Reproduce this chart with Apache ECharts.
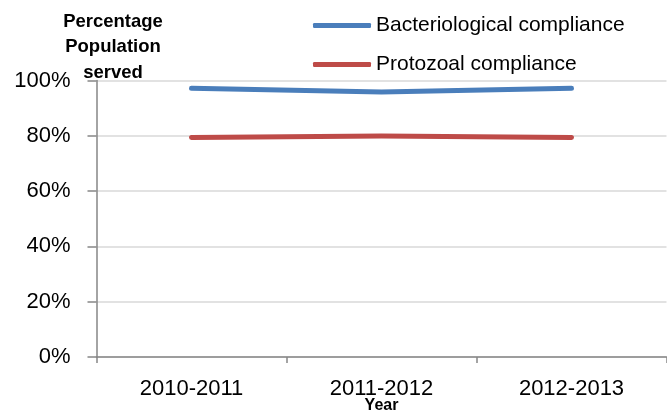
<!DOCTYPE html>
<html>
<head>
<meta charset="utf-8">
<script src="https://cdn.jsdelivr.net/npm/echarts@6/dist/echarts.min.js"></script>
<style>
html,body{margin:0;padding:0;background:#fff;}
#chart{width:667px;height:410px;}
</style>
</head>
<body>
<div id="chart"></div>
<script>
var categories = ['2010-2011', '2011-2012', '2012-2013'];
var bacteriological = [97.2, 95.8, 97.2];
var protozoal = [79.4, 79.9, 79.4];
var seriesNames = ['Bacteriological compliance', 'Protozoal compliance'];
var yTitle = 'Percentage\nPopulation\nserved';
var xTitle = 'Year';

var FONT = 'Liberation Sans';
var chart = echarts.init(document.getElementById('chart'), null, {renderer: 'canvas'});
chart.setOption({
  animation: false,
  backgroundColor: '#ffffff',
  title: {
    text: yTitle,
    left: 113,
    top: 9,
    padding: 0,
    textAlign: 'center',
    textStyle: {fontFamily: FONT, fontSize: 18.5, fontWeight: 'bold', color: '#000', lineHeight: 25.5}
  },
  legend: [
    {
      data: [seriesNames[0]],
      left: 313, top: 15, padding: 0,
      icon: 'roundRect', itemWidth: 58, itemHeight: 5, itemGap: 0,
      textStyle: {fontFamily: FONT, fontSize: 21, color: '#000'}
    },
    {
      data: [seriesNames[1]],
      left: 313, top: 54, padding: 0,
      icon: 'roundRect', itemWidth: 58, itemHeight: 5, itemGap: 0,
      textStyle: {fontFamily: FONT, fontSize: 21, color: '#000'}
    }
  ],
  grid: {left: 96.5, right: 0.5, top: 80.5, bottom: 53, containLabel: false, outerBoundsMode: 'none'},
  xAxis: {
    type: 'category',
    data: categories,
    boundaryGap: true,
    name: xTitle,
    nameLocation: 'middle',
    nameGap: 41,
    nameMoveOverlap: false,
    nameTextStyle: {fontFamily: FONT, fontSize: 16, fontWeight: 'bold', color: '#000'},
    axisLine: {show: true, lineStyle: {color: '#868686', width: 1.5}},
    axisTick: {show: true, length: 6, alignWithLabel: false, lineStyle: {color: '#868686', width: 1.5}},
    axisLabel: {fontFamily: FONT, fontSize: 22, color: '#000', margin: 21},
    splitLine: {show: false}
  },
  yAxis: {
    type: 'value',
    min: 0, max: 100, interval: 20,
    axisLine: {show: true, lineStyle: {color: '#868686', width: 1.5}},
    axisTick: {show: true, length: 9, lineStyle: {color: '#868686', width: 1.5}},
    axisLabel: {fontFamily: FONT, fontSize: 22, color: '#000', margin: 26, formatter: '{value}%'},
    splitLine: {show: true, lineStyle: {color: '#D9D9D9', width: 1.5}}
  },
  series: [
    {
      name: seriesNames[0], type: 'line', data: bacteriological,
      symbol: 'none', smooth: false,
      itemStyle: {color: '#4A7EBB'},
      lineStyle: {color: '#4A7EBB', width: 5, cap: 'round', join: 'round'}
    },
    {
      name: seriesNames[1], type: 'line', data: protozoal,
      symbol: 'none', smooth: false,
      itemStyle: {color: '#BE4B48'},
      lineStyle: {color: '#BE4B48', width: 5, cap: 'round', join: 'round'}
    }
  ]
});
</script>
</body>
</html>
